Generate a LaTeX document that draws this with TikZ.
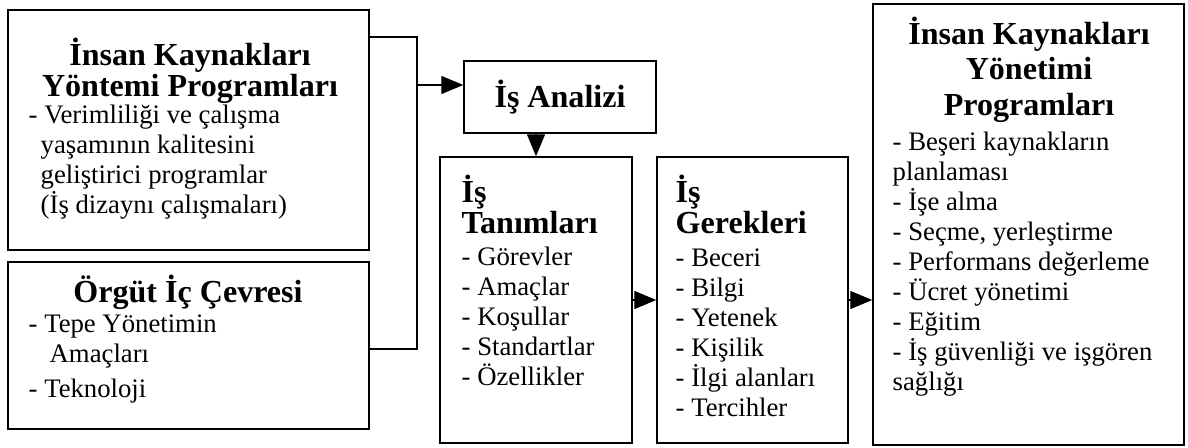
\documentclass[tikz,border=0pt]{standalone}
\usepackage{fontspec}
\setmainfont{Liberation Serif}
\usetikzlibrary{arrows.meta}
\begin{document}
\begin{tikzpicture}[x=0.025cm,y=-0.025cm,line width=1pt,>={Triangle[length=0.55cm,width=0.45cm]},
box/.style = {draw, rectangle, inner sep=0pt},
head/.style = {font=\fontsize{22.8pt}{22.4pt}\selectfont\bfseries, inner sep=0pt},
item/.style = {font=\fontsize{19pt}{21.3pt}\selectfont, inner sep=0pt, align=left},]
\useasboundingbox (0,0) rectangle (1188,447);
\node (ikp) at (188.5,130)[box,minimum width=9.025cm,minimum height=6cm] {};
\node (orgut) at (188.5,345.5)[box,minimum width=9.025cm,minimum height=4.175cm] {};
\node (analiz) at (560,97)[box,head,minimum width=4.8cm,minimum height=1.8cm] {İş Analizi};
\node (tanim) at (536,300)[box,minimum width=4.8cm,minimum height=7.15cm] {};
\node (gerek) at (752.5,300)[box,minimum width=4.775cm,minimum height=7.15cm] {};
\node (ikyp) at (1028.5,224.5)[box,minimum width=7.775cm,minimum height=11.025cm] {};
% multi-line texts: base = baseline of the last line
\node (ikpT) at (190,96.5)[head,anchor=base,align=center] {İnsan Kaynakları\\Yöntemi Programları};
\node (ikpM) at (28,213)[item,anchor=base west] {- Verimliliği ve çalışma\\\hspace*{0.3cm}yaşamının kalitesini\\\hspace*{0.3cm}geliştirici programlar\\\hspace*{0.3cm}(İş dizaynı çalışmaları)};
\node (orgutT) at (188,302)[head,anchor=base] {Örgüt İç Çevresi};
\node (orgutM) at (28,397)[item,anchor=base west] {- Tepe Yönetimin\\\hspace*{0.525cm}Amaçları\\[0.125cm]- Teknoloji};
\node (tanimT) at (461,233.5)[head,anchor=base west,align=left] {İş\\Tanımları};
\node (tanimM) at (461,385)[item,anchor=base west] {- Görevler\\- Amaçlar\\- Koşullar\\- Standartlar\\- Özellikler};
\node (gerekT) at (675,233.5)[head,anchor=base west,align=left] {İş\\Gerekleri};
\node (gerekM) at (675,416)[item,anchor=base west] {- Beceri\\- Bilgi\\- Yetenek\\- Kişilik\\- İlgi alanları\\- Tercihler};
\node (ikypT) at (1029,115)[head,anchor=base,align=center,font=\fontsize{22.8pt}{24.9pt}\selectfont\bfseries] {İnsan Kaynakları\\Yönetimi\\Programları};
\node (ikypM) at (892,390)[item,anchor=base west] {- Beşeri kaynakların\\planlaması\\- İşe alma\\- Seçme, yerleştirme\\- Performans değerleme\\- Ücret yönetimi\\- Eğitim\\- İş güvenliği ve işgören\\sağlığı};
\coordinate (j1) at (417,37);
\coordinate (j2) at (417,349);
\coordinate (j3) at (417,85);
\draw (ikp.east |- j1)--(j1)--(j2)--(orgut.east |- j2);
\draw[->] (j3)--(analiz.west |- j3);
\draw[->] (analiz.south -| tanim.north)--(tanim.north);
\draw[->] (tanim.east)--(gerek.west);
\draw[->] (gerek.east)--(gerek.east -| ikyp.west);
\end{tikzpicture}
\end{document}
